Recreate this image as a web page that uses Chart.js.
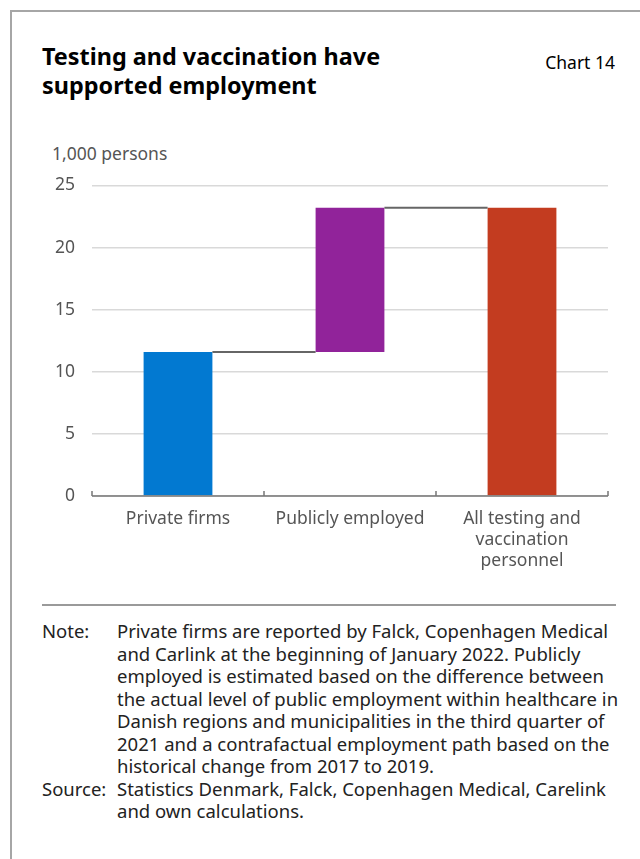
<!DOCTYPE html>
<html>
<head>
<meta charset="utf-8">
<script src="https://cdn.jsdelivr.net/npm/chart.js@4"></script>
<style>
  body { margin: 0; width: 640px; height: 859px; background: #fff; font-family: "Noto Sans", "Open Sans", sans-serif; position: relative; overflow: hidden; }
  .frame { position: absolute; left: 10px; top: 10px; width: 640px; height: 900px; border-left: 2px solid #a6a6a6; border-top: 2px solid #a6a6a6; }
  .title { position: absolute; left: 42px; top: 42px; font-size: 23.4px; font-weight: bold; line-height: 29px; color: #000; }
  .num { position: absolute; right: 25px; top: 50px; font-size: 17.5px; color: #000; }
  .unit { position: absolute; left: 52px; top: 141px; font-size: 17.5px; color: #555; }
  .chart { position: absolute; left: 40px; top: 158px; width: 580px; height: 418px; }
  .sep { position: absolute; left: 42px; top: 604px; width: 574px; height: 2px; background: #9a9a9a; }
  .notes { position: absolute; left: 42px; top: 620px; width: 600px; font-size: 18.5px; line-height: 22.5px; color: #222; white-space: nowrap; }
  .row { display: flex; }
  .row .k { width: 75px; flex: none; }
</style>
</head>
<body>
<div class="frame"></div>
<div class="title">Testing and vaccination have<br>supported employment</div>
<div class="num">Chart 14</div>
<div class="unit">1,000 persons</div>
<div class="chart"><canvas id="c"></canvas></div>
<div class="sep"></div>
<div class="notes">
  <div class="row"><div class="k">Note:</div><div>Private firms are reported by Falck, Copenhagen Medical<br>and Carlink at the beginning of January 2022. Publicly<br>employed is estimated based on the difference between<br>the actual level of public employment within healthcare in<br>Danish regions and municipalities in the third quarter of<br>2021 and a contrafactual employment path based on the<br>historical change from 2017 to 2019.</div></div>
  <div class="row"><div class="k">Source:</div><div>Statistics Denmark, Falck, Copenhagen Medical, Carelink<br>and own calculations.</div></div>
</div>
<script>
const categories = [['Private firms'], ['Publicly employed'], ['All testing and', 'vaccination', 'personnel']];
const barBase = [0, 11.6, 0];
const barTop = [11.6, 23.2, 23.2];
const barColors = ['#0279d1', '#91239a', '#c33c20'];
const yTicks = [0, 5, 10, 15, 20, 25];

// connector lines between bars + x axis with upward ticks
const waterfallLines = {
  id: 'waterfallLines',
  afterDatasetsDraw(chart) {
    const ctx = chart.ctx;
    const meta = chart.getDatasetMeta(0);
    const y = chart.scales.y;
    const x = chart.scales.x;
    ctx.save();
    ctx.strokeStyle = '#666';
    ctx.lineWidth = 2;
    for (let i = 0; i < meta.data.length - 1; i++) {
      const a = meta.data[i], b = meta.data[i + 1];
      const py = y.getPixelForValue(barTop[i]);
      ctx.beginPath();
      ctx.moveTo(a.x + a.width / 2, py);
      ctx.lineTo(b.x - b.width / 2, py);
      ctx.stroke();
    }
    // axis
    const y0 = y.getPixelForValue(0);
    ctx.strokeStyle = '#777';
    ctx.lineWidth = 1.5;
    ctx.beginPath();
    ctx.moveTo(chart.chartArea.left, y0);
    ctx.lineTo(chart.chartArea.right, y0);
    const step = x.getPixelForValue(1) - x.getPixelForValue(0);
    for (let i = 0; i <= categories.length; i++) {
      const px = x.getPixelForValue(i) - step / 2;
      ctx.moveTo(px, y0);
      ctx.lineTo(px, y0 - 5);
    }
    ctx.stroke();
    ctx.restore();
  }
};

new Chart(document.getElementById('c'), {
  type: 'bar',
  data: {
    labels: categories,
    datasets: [{
      data: categories.map((c, i) => [barBase[i], barTop[i]]),
      backgroundColor: barColors,
      barPercentage: 0.4,
      categoryPercentage: 1.0
    }]
  },
  options: {
    responsive: true,
    maintainAspectRatio: false,
    animation: false,
    layout: { padding: { right: 12, top: 0 } },
    plugins: { legend: { display: false }, tooltip: { enabled: false } },
    scales: {
      x: {
        offset: true,
        grid: { display: false },
        border: { display: false },
        ticks: { color: '#555', font: { size: 17.5, family: 'Noto Sans', lineHeight: 1.2 }, padding: 5, maxRotation: 0 },
        afterFit(s) { s.height = 80; }
      },
      y: {
        min: 0,
        max: 25,
        afterBuildTicks(s) { s.ticks = yTicks.map(v => ({ value: v })); },
        grid: { color: '#d9d9d9', lineWidth: 1.5, drawTicks: false },
        border: { display: false },
        ticks: { color: '#555', font: { size: 17.5, family: 'Noto Sans' }, padding: 17 },
        afterFit(s) { s.width = 52; }
      }
    }
  },
  plugins: [waterfallLines]
});
</script>
</body>
</html>
